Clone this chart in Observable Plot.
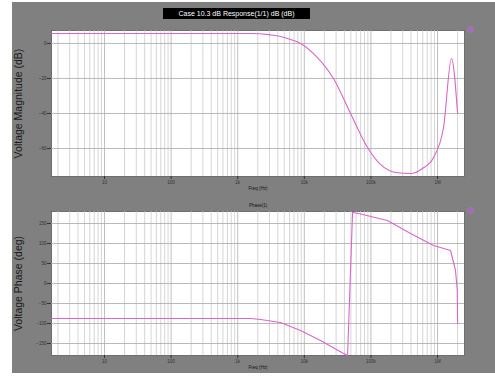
<!DOCTYPE html>
<html><head><meta charset="utf-8">
<script src="https://cdn.jsdelivr.net/npm/d3@7"></script>
<script src="https://cdn.jsdelivr.net/npm/@observablehq/plot@0.6"></script>
<style>
body{margin:0;background:#fff;font-family:"Liberation Sans",Arial,sans-serif;}
#wrap{position:relative;width:495px;height:376px;overflow:hidden;}
#bg{position:absolute;left:12px;top:2px;width:483px;height:371px;background:#808080;}
#title{position:absolute;left:163px;top:8px;width:147px;height:11px;background:#000;color:#fff;font-size:7px;line-height:11px;text-align:center;white-space:nowrap;overflow:hidden;}
.p{position:absolute;left:0;}
</style></head><body>
<div id="wrap"><div id="bg"></div><div id="title"></div></div>
<script>
const title = "Case 10.3 dB Response(1/1) dB (dB)";
const decades = [10, 100, 1e3, 1e4, 1e5, 1e6];
const decadeLabels = ["10", "100", "1k", "10k", "100k", "1M"];
const minorSteps = [2, 3, 4, 5, 6, 7, 8, 9];
const xDomain = [1.6, 2.54e6];
const magTicks = [0, -20, -40, -60];
const magDomain = [-76, 7.4];
const phaseTicks = [-150, -100, -50, 0, 50, 100, 150];
const phaseDomain = [-180, 180];

const magFreq = [1.6, 49, 1556, 3100, 4390, 6210, 8770, 14700, 27400, 49400, 88900, 139000, 234000, 394000, 596000, 871000, 1.23e6, 1.62e6, 2.0e6];
const magDb   = [5.7, 5.7, 5.7, 4.9, 4.0, 2.3, 0, -6.9, -20, -40, -59.4, -69.1, -73.7, -74.3, -71.4, -65.1, -48, -8.6, -40];

const phaseFreq = [1.6, 49, 1556, 2200, 4390, 8770, 17500, 38800, 44600, 53000, 65200, 177000, 394000, 871000, 1.57e6, 1.86e6, 1.98e6, 2.0e6];
const phaseDeg  = [-87.5, -87.5, -87.5, -90, -97.5, -117.5, -142.5, -175, -180, 177.5, 175, 157.5, 125, 95, 82.5, 32.5, -17.5, -100];

document.getElementById("title").textContent = title;

const minorTicks = [];
for (const d of [1, ...decades]) for (const m of minorSteps) {
  const v = d * m;
  if (v > xDomain[0] && v < xDomain[1]) minorTicks.push(v);
}

const lineColor = "#d966c9";
const font = "Liberation Sans, Arial, sans-serif";

function panel({top, height, mt, mb, freq, vals, yDomain, yTicks, yLabel, topText, bottomText, curve}) {
  const data = freq.map((f, i) => ({f, v: vals[i]}));
  const marks = [
    Plot.frame({fill: "#fff", stroke: "#5a5a5a", strokeWidth: 0.8}),
    Plot.ruleX(minorTicks, {stroke: "#c4c4c4", strokeWidth: 0.7}),
    Plot.ruleX(decades, {stroke: "#b0b0b0", strokeWidth: 0.8}),
    Plot.ruleY(yTicks, {stroke: "#a8a8a8", strokeWidth: 0.8}),
    Plot.axisX(decades, {tickFormat: d => decadeLabels[decades.indexOf(d)], fontSize: 4.5, tickSize: 3, tickPadding: 1, stroke: "#333", fill: "#333", label: null}),
    Plot.axisY(yTicks, {fontSize: 4.5, tickSize: 4, tickPadding: 1, stroke: "#333", fill: "#333", label: null}),
    Plot.line(data, {x: "f", y: "v", stroke: lineColor, strokeWidth: 1.1, curve}),
    Plot.text([yLabel], {frameAnchor: "left", textAnchor: "middle", dx: -33, rotate: -90, fontSize: 10.5, fill: "#1a1a1a", fontFamily: font}),
    Plot.dot([0], {frameAnchor: "top-right", dx: 6, dy: -1, r: 3.5, fill: "#a86cc8", fillOpacity: 0.75, stroke: "none"})
  ];
  if (bottomText) marks.push(Plot.text([bottomText], {frameAnchor: "bottom", dy: 13, fontSize: 4.5, fill: "#111", fontFamily: font}));
  if (topText) marks.push(Plot.text([topText], {frameAnchor: "top", dy: -8, fontSize: 4.5, fill: "#111", fontFamily: font}));
  const p = Plot.plot({
    width: 495, height, marginLeft: 51, marginRight: 31, marginTop: mt, marginBottom: mb,
    style: {background: "transparent", fontFamily: font, overflow: "visible"},
    x: {type: "log", domain: xDomain},
    y: {domain: yDomain},
    marks
  });
  p.classList.add("p");
  p.style.top = top + "px";
  document.getElementById("wrap").appendChild(p);
}

panel({top: 20, height: 180, mt: 10, mb: 24, freq: magFreq, vals: magDb, yDomain: magDomain, yTicks: magTicks,
  yLabel: "Voltage Magnitude (dB)", bottomText: "Freq (Hz)", curve: "monotone-x"});
panel({top: 200, height: 176, mt: 11, mb: 21, freq: phaseFreq, vals: phaseDeg, yDomain: phaseDomain, yTicks: phaseTicks,
  yLabel: "Voltage Phase (deg)", topText: "Phase(1)", bottomText: "Freq (Hz)", curve: "linear"});
</script>
</body></html>
